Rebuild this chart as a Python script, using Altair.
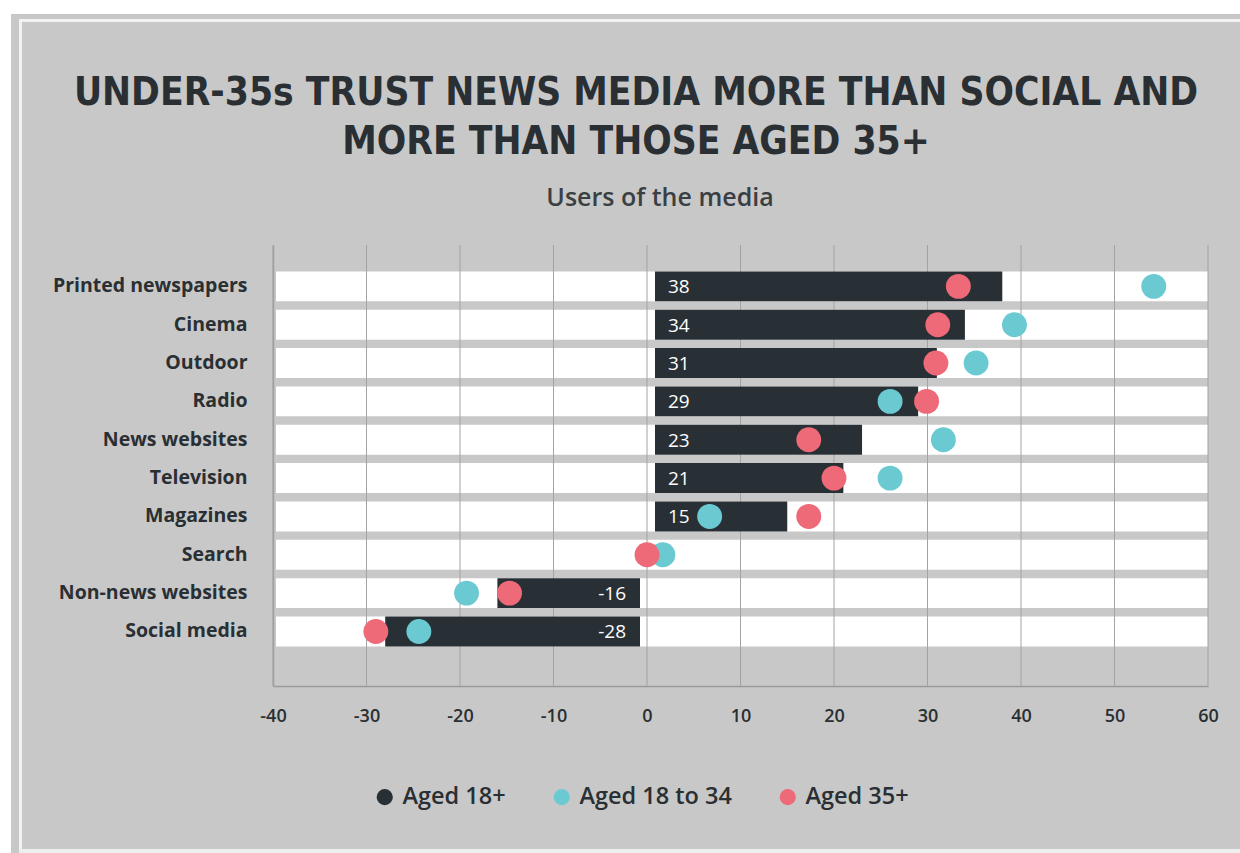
import altair as alt
import pandas as pd

title_lines = ["UNDER-35s TRUST NEWS MEDIA MORE THAN SOCIAL AND", "MORE THAN THOSE AGED 35+"]
subtitle = "Users of the media"
categories = ["Printed newspapers", "Cinema", "Outdoor", "Radio", "News websites",
              "Television", "Magazines", "Search", "Non-news websites", "Social media"]
aged_18_plus = [38, 34, 31, 29, 23, 21, 15, 0, -16, -28]
aged_18_34 = [54.2, 39.3, 35.2, 26.0, 31.7, 26.0, 6.7, 1.7, -19.3, -24.4]
aged_35_plus = [33.3, 31.1, 30.9, 29.9, 17.3, 20.0, 17.3, 0.0, -14.7, -29.0]
x_ticks = [-40, -30, -20, -10, 0, 10, 20, 30, 40, 50, 60]
series = ["Aged 18+", "Aged 18 to 34", "Aged 35+"]
colors = ["#283035", "#6bc9d2", "#ee6a78"]

DARK = "#2a2f33"
BG = "#c8c8c8"
PL, PT = 273, 245  # plot origin on the page

bars = pd.DataFrame({"cat": categories, "value": aged_18_plus, "series": series[0]})
dots = pd.concat([
    pd.DataFrame({"cat": categories, "value": aged_18_34, "series": series[1]}),
    pd.DataFrame({"cat": categories, "value": aged_35_plus, "series": series[2]}),
], ignore_index=True)
grid = pd.DataFrame({"t": x_ticks})
bands = pd.DataFrame({"cat": categories})
one = pd.DataFrame({"k": [0]})

xscale = alt.Scale(domain=[-40, 60], nice=False, zero=False)
yscale = alt.Scale(domain=categories, paddingInner=0.22, paddingOuter=0.86, align=0.4)
cscale = alt.Scale(domain=series, range=colors)

y_enc = alt.Y("cat:N", scale=yscale, sort=categories, title=None,
              axis=alt.Axis(labelFont="Open Sans", labelFontWeight="bold", labelFontSize=19.5,
                            labelColor=DARK, labelPadding=26, ticks=False, labelLimit=400,
                            domainColor="#9a9a9a", domainWidth=1.5, grid=False))
y_plain = alt.Y("cat:N", scale=yscale, sort=categories, title=None)


def frame_rect(x0, x1, y0, y1, color):
    return alt.Chart(one).mark_rect(color=color).encode(
        x=alt.value(x0 - PL), x2=alt.value(x1 - PL),
        y=alt.value(y0 - PT), y2=alt.value(y1 - PT),
    )


def page_text(txt, cx, cy, **kw):
    return alt.Chart(one).mark_text(text=txt, align="center", baseline="middle", **kw).encode(
        x=alt.value(cx - PL), y=alt.value(cy - PT)
    )


frame = [
    frame_rect(0, 1240, 0, 14, "white"),
    frame_rect(0, 11, 0, 853, "white"),
    frame_rect(19, 1240, 19, 22, "#f2f2f2"),
    frame_rect(19, 22, 19, 853, "#f2f2f2"),
    frame_rect(19, 1240, 849, 853, "#eeeeee"),
]

TFONT = "DejaVu Sans Condensed, DejaVu Sans, sans-serif"
titles = [
    page_text(title_lines[0], 636, 93, font=TFONT, fontWeight="bold", fontSize=38.6, color=DARK),
    page_text(title_lines[1], 636, 142, font=TFONT, fontWeight="bold", fontSize=38.6, color=DARK),
    page_text(subtitle, 660, 198, font="Open Sans", fontWeight=600, fontSize=25,
              color="#3a3f44"),
]

band_layer = alt.Chart(bands).mark_bar(color="white", xOffset=3).encode(
    y=y_enc,
    x=alt.X(datum=-40, scale=xscale, title=None,
            axis=alt.Axis(values=x_ticks, grid=False, ticks=False, labelFont="Open Sans",
                          labelFontWeight=600, labelFontSize=18, labelColor=DARK,
                          labelPadding=21, domainColor="#9a9a9a", domainWidth=1.5,
                          labelFlush=False, labelExpr="'' + datum.value")),
    x2=alt.X2(datum=60),
)

grid_layer = alt.Chart(grid).mark_rule(color="#a3a3a3", strokeWidth=1).encode(
    x=alt.X("t:Q", scale=xscale, title=None)
)

pos_bars = alt.Chart(bars).transform_filter("datum.value > 0").mark_bar(x2Offset=8).encode(
    y=y_plain,
    x=alt.X("value:Q", scale=xscale, title=None),
    x2=alt.X2(datum=0),
    color=alt.Color("series:N", scale=cscale),
)
neg_bars = alt.Chart(bars).transform_filter("datum.value < 0").mark_bar(x2Offset=-7).encode(
    y=y_plain,
    x=alt.X("value:Q", scale=xscale, title=None),
    x2=alt.X2(datum=0),
    color=alt.Color("series:N", scale=cscale),
)

pos_text = alt.Chart(bars).transform_filter("datum.value > 0").transform_calculate(
    label="'' + datum.value"
).mark_text(
    align="left", baseline="middle", dx=21, dy=1, color="white", fontSize=19, font="Open Sans"
).encode(
    y=y_plain,
    x=alt.X(datum=0, scale=xscale, title=None),
    text=alt.Text("label:N"),
)
neg_text = alt.Chart(bars).transform_filter("datum.value < 0").transform_calculate(
    label="'' + datum.value"
).mark_text(
    align="right", baseline="middle", dx=-21, dy=1, color="white", fontSize=19, font="Open Sans"
).encode(
    y=y_plain,
    x=alt.X(datum=0, scale=xscale, title=None),
    text=alt.Text("label:N"),
)

dot_layer = alt.Chart(dots).mark_circle(size=620, opacity=1).encode(
    y=y_plain,
    x=alt.X("value:Q", scale=xscale, title=None),
    color=alt.Color("series:N", scale=cscale,
                    legend=alt.Legend(title=None, orient="none", direction="horizontal",
                                      legendX=100, legendY=540, symbolType="circle",
                                      symbolSize=260, labelFont="Open Sans",
                                      labelFontWeight=600, labelFontSize=23.5,
                                      labelColor=DARK, columnPadding=44, symbolOpacity=1,
                                      labelOffset=6)),
)

chart = alt.layer(
    *frame, *titles, band_layer, grid_layer, pos_bars, neg_bars, pos_text, neg_text, dot_layer
).properties(
    width=935,
    height=441,
    background=BG,
    padding={"left": PL, "top": PT, "right": 32, "bottom": 167},
    autosize=alt.AutoSizeParams(type="none"),
).configure_view(stroke=None)

chart.save("out.html", embed_options={"renderer": "svg", "actions": False})
